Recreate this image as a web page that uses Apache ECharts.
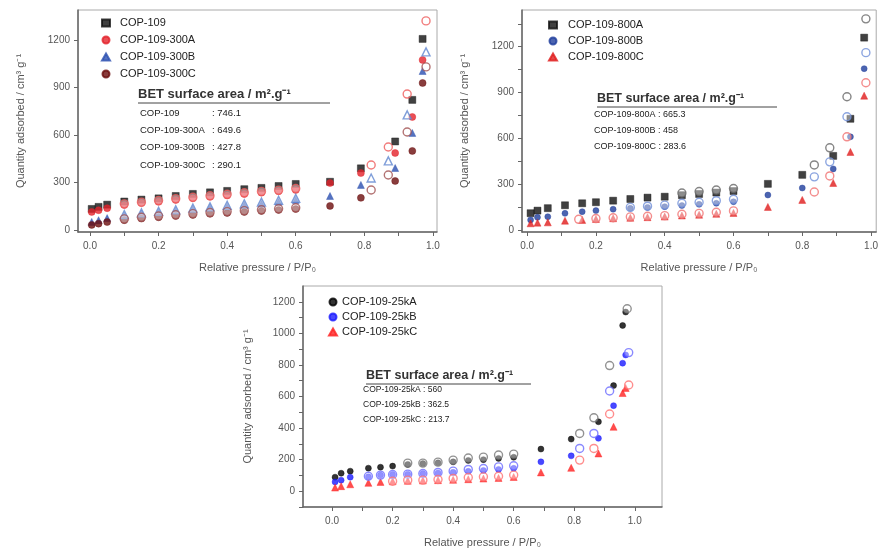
<!DOCTYPE html>
<html><head><meta charset="utf-8">
<script src="https://cdn.jsdelivr.net/npm/echarts@6/dist/echarts.min.js"></script>
<style>html,body{margin:0;padding:0;background:#fff}#c{width:881px;height:552px}</style>
</head><body><div id="c"></div>
<script>
// ---------- Panel 1 (COP-109 / 300 series) ----------
const P1_ADS_P = [0.005,0.025,0.05,0.1,0.15,0.2,0.25,0.3,0.35,0.4,0.45,0.5,0.55,0.6,0.7,0.79,0.89,0.94,0.97];
const COP109_ADS = [133,146,160,180,192,200,215,228,238,247,258,266,278,291,305,390,560,823,1209];
const A300_ADS = [114,125,138,158,170,178,190,200,210,218,228,236,245,253,297,360,487,715,1076];
const B300_ADS = [51,62,75,92,104,112,122,131,140,148,158,166,178,190,215,285,392,614,1006];
const C300_ADS = [32,40,50,62,72,80,88,95,102,108,114,120,127,133,152,203,310,500,930];
const P1_DES_P = [0.98,0.925,0.87,0.82,0.6,0.55,0.5,0.45,0.4,0.35,0.3,0.25,0.2,0.15,0.1];
const A300_DES = [1323,860,525,411,262,252,244,235,226,216,207,198,186,176,165];
const B300_DES = [1127,728,437,329,200,188,176,166,156,146,138,128,118,108,98];
const C300_DES = [1032,620,348,253,140,134,128,122,116,110,103,96,88,80,70];
const X_LABELS = [0,0.2,0.4,0.6,0.8,1.0];
const X_TICKS = [0,0.1,0.2,0.3,0.4,0.5,0.6,0.7,0.8,0.9,1.0];
const P1_Y_LABELS = [0,300,600,900,1200];
const P1_BET = [['COP-109', ': 746.1'],['COP-109-300A', ': 649.6'],['COP-109-300B', ': 427.8'],['COP-109-300C', ': 290.1']];

// ---------- Panel 2 (800 series) ----------
const P2_ADS_P = [0.01,0.03,0.06,0.11,0.16,0.2,0.25,0.3,0.35,0.4,0.45,0.5,0.55,0.6,0.7,0.8,0.89,0.94,0.98];
const A800_ADS = [110,127,143,162,175,182,192,203,212,218,228,236,245,255,302,361,485,728,1259];
const B800_ADS = [66,83,87,109,120,127,136,142,148,153,160,168,175,185,229,275,400,610,1056];
const C800_ADS = [44,48,50,61,66,72,77,80,84,88,95,100,106,112,151,197,308,511,879];
const A800_DES_P = [0.985,0.93,0.88,0.835,0.6,0.55,0.5,0.45];
const A800_DES = [1382,872,538,426,272,262,252,242];
const B800_DES_P = [0.985,0.93,0.88,0.835,0.6,0.55,0.5,0.45,0.4,0.35,0.3];
const B800_DES = [1161,741,446,348,201,192,182,175,163,156,148];
const C800_DES_P = [0.985,0.93,0.88,0.835,0.6,0.55,0.5,0.45,0.4,0.35,0.3,0.25,0.2,0.15];
const C800_DES = [964,610,354,249,125,116,109,103,94,90,86,80,75,70];
const P2_Y_LABELS = [0,300,600,900,1200];
const P2_Y_TICKS = [0,150,300,450,600,750,900,1050,1200,1350];
const P2_BET = ['COP-109-800A : 665.3','COP-109-800B : 458','COP-109-800C : 283.6'];

// ---------- Panel 3 (25k series) ----------
const P3_ADS_P = [0.01,0.03,0.06,0.12,0.16,0.2,0.25,0.3,0.35,0.4,0.45,0.5,0.55,0.6,0.69,0.79,0.88,0.93,0.96,0.97];
const A25_ADS = [89,114,127,146,152,159,170,175,180,186,195,200,208,215,267,330,440,669,1050,1135];
const B25_ADS = [59,70,89,91,102,106,108,112,116,120,126,132,138,145,186,224,335,542,811,863];
const C25_ADS = [23,32,44,53,59,63,66,68,70,72,76,80,84,90,119,148,239,408,622,654];
const A25_DES_P = [0.975,0.917,0.865,0.818,0.6,0.55,0.5,0.45,0.4,0.35,0.3,0.25];
const A25_DES = [1156,796,465,366,235,229,216,210,197,184,178,178];
const B25_DES_P = [0.98,0.917,0.865,0.818,0.6,0.55,0.5,0.45,0.4,0.35,0.3,0.25,0.2,0.16,0.12];
const B25_DES = [878,635,366,271,161,154,144,138,127,119,112,108,106,102,95];
const C25_DES_P = [0.98,0.917,0.865,0.818,0.6,0.55,0.5,0.45,0.4,0.35,0.3,0.25,0.2];
const C25_DES = [673,489,271,197,102,95,91,87,81,74,70,70,63];
const P3_Y_LABELS = [0,200,400,600,800,1000,1200];
const P3_Y_TICKS = [-100,0,100,200,300,400,500,600,700,800,900,1000,1100,1200];
const P3_BET = ['COP-109-25kA : 560','COP-109-25kB : 362.5','COP-109-25kC : 213.7'];

const X_NAME = 'Relative pressure / P/P\u2080';
const Y_NAME = 'Quantity adsorbed / cm\u00b3 g\u207b\u00b9';
const BET_TITLE = 'BET surface area / m\u00b2.g\u207b\u00b9';

const FONT = '"Liberation Sans", Arial, sans-serif';
const chart = echarts.init(document.getElementById('c'));

function pts(xs, ys){ return xs.map((x,i)=>[x, ys[i]]); }
function ser(g, name, xs, ys, symbol, color, open, size){
  return {type:'scatter', name:name, xAxisIndex:g, yAxisIndex:g, data:pts(xs,ys), symbol:symbol,
    symbolSize:size||7, silent:true, animation:false, z: open?3:2,
    itemStyle: open ? {color:'rgba(255,255,255,0.5)', borderColor:color, borderWidth:1.4}
                    : {color:color, borderColor:color, borderWidth:0.5}};
}
function xAx(g, min, max, gap){
  return {type:'value', gridIndex:g, min:min, max:max, name:X_NAME, nameLocation:'middle', nameGap:gap,
    nameTextStyle:{color:'#555', fontSize:11, fontFamily:FONT},
    axisLine:{onZero:false, lineStyle:{color:'#666', width:1.5}},
    axisTick:{show:true, length:4, customValues:X_TICKS, lineStyle:{color:'#666'}},
    axisLabel:{customValues:X_LABELS, formatter:v=>v.toFixed(1), color:'#555', fontSize:10, margin:9, fontFamily:FONT},
    splitLine:{show:false}};
}
function yAx(g, min, max, labels, ticks, gap){
  return {type:'value', gridIndex:g, min:min, max:max, name:Y_NAME, nameLocation:'middle', nameGap:gap,
    nameTextStyle:{color:'#555', fontSize:11, fontFamily:FONT},
    axisLine:{show:true, onZero:false, lineStyle:{color:'#666', width:1.5}},
    axisTick:{show:true, length:4, customValues:ticks, lineStyle:{color:'#666'}},
    axisLabel:{customValues:labels, formatter:v=>String(v), color:'#555', fontSize:10, margin:8, fontFamily:FONT},
    splitLine:{show:false}};
}
function betTitle(x, y, w, size){
  return [
    {type:'text', left:x, top:y-7, style:{text:BET_TITLE, font:'bold '+size+'px '+FONT, fill:'#333'}, silent:true},
    {type:'line', shape:{x1:x, y1:y+8, x2:x+w, y2:y+8}, style:{stroke:'#444', lineWidth:1}, silent:true}
  ];
}
function betRowsCols(x, y, rows, colonX, dy, size){
  const out = [];
  rows.forEach((r,i)=>{
    out.push({type:'text', left:x, top:y+i*dy-6, style:{text:r[0], font:size+'px '+FONT, fill:'#222'}, silent:true});
    out.push({type:'text', left:colonX, top:y+i*dy-6, style:{text:r[1], font:size+'px '+FONT, fill:'#222'}, silent:true});
  });
  return out;
}
function betRows(x, y, rows, dy, size){
  return rows.map((r,i)=>({type:'text', left:x, top:y+i*dy-6, style:{text:r, font:size+'px '+FONT, fill:'#222'}, silent:true}));
}

const K='#111', R='#e3222a', B='#2b4fb0', DR='#6b0c0c';
const B2='#1f3d9c', R2='#e01c1c';
const B3='#1a1aff', R3='#ff2020';

const series = [
  ser(0,'COP-109',P1_ADS_P,COP109_ADS,'rect',K,false,7),
  ser(0,'COP-109-300A',P1_ADS_P,A300_ADS,'circle',R,false,7),
  ser(0,'COP-109-300B',P1_ADS_P,B300_ADS,'triangle',B,false,7),
  ser(0,'COP-109-300C',P1_ADS_P,C300_ADS,'circle',DR,false,7),
  ser(0,'300A-des',P1_DES_P,A300_DES,'circle','#ee5a5a',true,8),
  ser(0,'300B-des',P1_DES_P,B300_DES,'triangle','#5f86cf',true,8),
  ser(0,'300C-des',P1_DES_P,C300_DES,'circle','#a05050',true,8),

  ser(1,'COP-109-800A',P2_ADS_P,A800_ADS,'rect',K,false,7),
  ser(1,'COP-109-800B',P2_ADS_P,B800_ADS,'circle',B2,false,6),
  ser(1,'COP-109-800C',P2_ADS_P,C800_ADS,'triangle',R2,false,7),
  ser(1,'800A-des',A800_DES_P,A800_DES,'circle','#666',true,8),
  ser(1,'800B-des',B800_DES_P,B800_DES,'circle','#6f8fd8',true,8),
  ser(1,'800C-des',C800_DES_P,C800_DES,'circle','#f07070',true,8),

  ser(2,'COP-109-25kA',P3_ADS_P,A25_ADS,'circle','#000',false,6),
  ser(2,'COP-109-25kB',P3_ADS_P,B25_ADS,'circle',B3,false,6),
  ser(2,'COP-109-25kC',P3_ADS_P,C25_ADS,'triangle',R3,false,7),
  ser(2,'25kA-des',A25_DES_P,A25_DES,'circle','#777',true,8),
  ser(2,'25kB-des',B25_DES_P,B25_DES,'circle','#6b6bff',true,8),
  ser(2,'25kC-des',C25_DES_P,C25_DES,'circle','#ff7070',true,8)
];

function legend(names, left, top, gap, pad){
  return {data:names, left:left, top:top, orient:'vertical', itemGap:gap, itemWidth:8, itemHeight:7,
    selectedMode:false, textStyle:{fontSize:11, color:'#222', fontFamily:FONT, lineHeight:12, padding:[0,0,0,pad]}};
}

const option = {
  animation:false,
  backgroundColor:'#fff',
  grid:[
    {left:78, top:10, width:359, height:222, show:true, borderColor:'#aaa', borderWidth:1},
    {left:522, top:10, width:355, height:222, show:true, borderColor:'#aaa', borderWidth:1},
    {left:303, top:286, width:359, height:221, show:true, borderColor:'#aaa', borderWidth:1}
  ],
  xAxis:[ xAx(0,-0.035,1.012,30), xAx(1,-0.015,1.015,30), xAx(2,-0.096,1.09,30) ],
  yAxis:[ yAx(0,-13,1392,P1_Y_LABELS,P1_Y_LABELS,52), yAx(1,-13,1440,P2_Y_LABELS,P2_Y_TICKS,52), yAx(2,-100,1300,P3_Y_LABELS,P3_Y_TICKS,50) ],
  legend:[
    legend(['COP-109','COP-109-300A','COP-109-300B','COP-109-300C'], 96, 12, 5, 5),
    legend(['COP-109-800A','COP-109-800B','COP-109-800C'], 543, 14, 4, 6),
    legend(['COP-109-25kA','COP-109-25kB','COP-109-25kC'], 323, 291, 3, 0)
  ],
  graphic: [].concat(
    betTitle(138, 95, 192, 13),
    betRowsCols(140, 114, P1_BET, 212, 17.3, 9.5),
    betTitle(597, 99, 180, 12.5),
    betRows(594, 116, P2_BET, 16, 9),
    betTitle(366, 376, 165, 12.5),
    betRows(363, 391, P3_BET, 15, 8.5)
  ),
  series: series
};
chart.setOption(option);
</script></body></html>
